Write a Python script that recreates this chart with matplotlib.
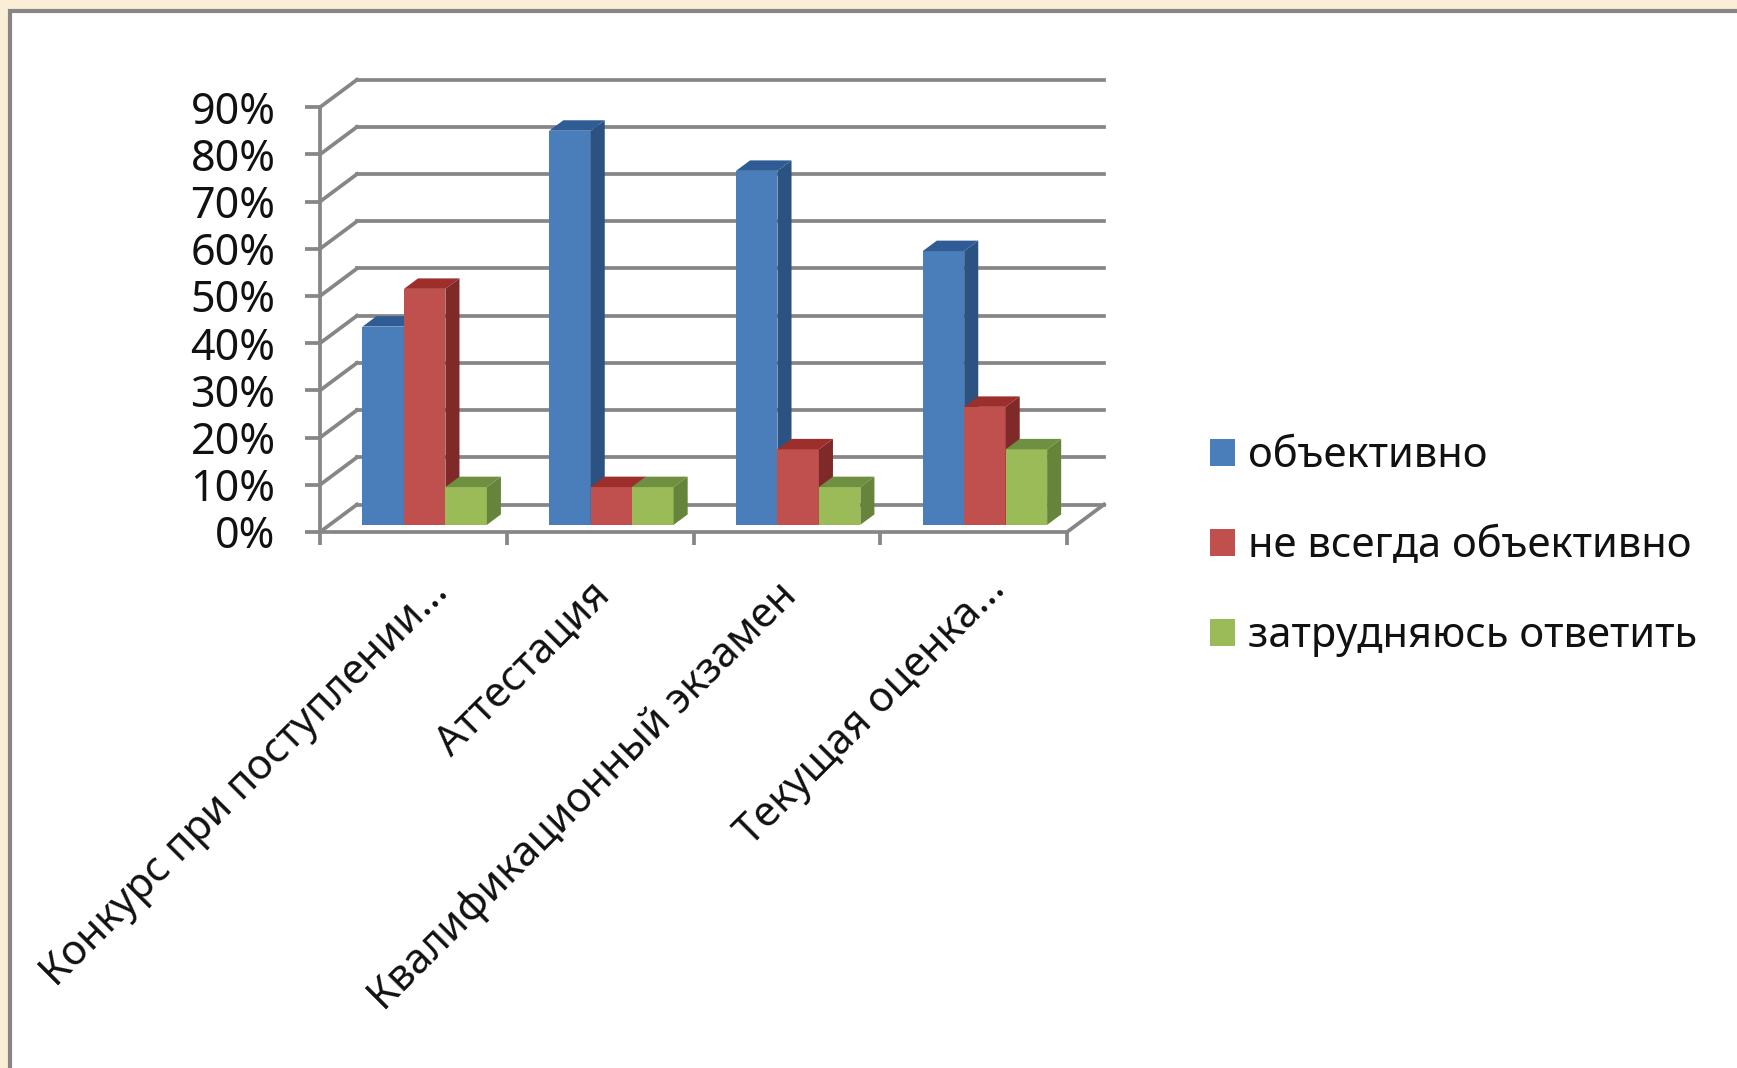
import matplotlib
matplotlib.use('Agg')
import matplotlib.pyplot as plt
from matplotlib.patches import Patch, Rectangle

plt.rcParams['font.family'] = ['Noto Sans', 'DejaVu Sans']

categories = ['Конкурс при поступлении...', 'Аттестация', 'Квалификационный экзамен', 'Текущая оценка...']
series_names = ['объективно', 'не всегда объективно', 'затрудняюсь ответить']
objective = [42, 83.5, 75, 58]
not_always = [50, 8, 16, 25]
hard_to_say = [8, 8, 8, 16]
y_ticks = list(range(0, 100, 10))

front_colors = ['#4a7ebb', '#c0504d', '#9bbb59']
top_colors = ['#2f5c94', '#9c2f2c', '#6f9040']
side_colors = ['#2c5282', '#7f2a28', '#66853a']
grid_color = '#868686'

W, H = 1737, 1068
fig = plt.figure(figsize=(W / 100, H / 100), dpi=100, facecolor='#fbeed6')

# white panel with the grey border
fig.add_artist(Rectangle((10 / W, -0.02), 1.1, 1 - 11 / H + 0.02, transform=fig.transFigure,
                         facecolor='white', edgecolor=grid_color, linewidth=3, zorder=-1))

# 3d depth of the chart box, in data units
unit_x = 186.75
unit_y = 4.72
depth_x = 37 / unit_x
depth_y = 27.5 / unit_y

ax = fig.add_axes([320 / W, 1 - 532 / H, (4 * unit_x + 37) / W, (90 * unit_y + 27.5) / H])
ax.set_xlim(0, 4 + depth_x)
ax.set_ylim(0, 90 + depth_y)
ax.patch.set_visible(False)
for side in ['top', 'right']:
    ax.spines[side].set_visible(False)
ax.spines['left'].set_bounds(0, 90)
ax.spines['bottom'].set_bounds(0, 4)
for side in ['left', 'bottom']:
    ax.spines[side].set_color(grid_color)
    ax.spines[side].set_linewidth(2.7)

ax.set_yticks(y_ticks)
ax.set_yticklabels([str(v) + '%' for v in y_ticks], fontsize=31, color='#111111')
ax.tick_params(axis='y', length=11, width=2.7, color=grid_color, pad=21)
ax.set_xticks(range(5))
ax.set_xticklabels([])
ax.tick_params(axis='x', length=9, width=2.7, color=grid_color)

# back wall and floor lines
for v in y_ticks:
    ax.plot([depth_x, 4 + depth_x], [v + depth_y, v + depth_y], color=grid_color, lw=2.7, zorder=1, clip_on=False)
    ax.plot([0, depth_x], [v, v + depth_y], color=grid_color, lw=2.7, zorder=1, clip_on=False)
ax.plot([4, 4 + depth_x], [0, depth_y], color=grid_color, lw=2.7, zorder=1, clip_on=False)

# bars: front face plus top and side faces
bar_w = 0.222
gap = 0.176
start_d = 0.26
bar_d = 0.38
for s, values in enumerate([objective, not_always, hard_to_say]):
    for c, v in enumerate(values):
        x0 = c + gap + s * bar_w
        x1 = x0 + bar_w
        b = depth_y * start_d
        ox = depth_x * start_d
        dx = depth_x * bar_d
        dy = depth_y * bar_d
        top = v + b
        ax.bar(x0 + ox, v, bar_w, bottom=b, align='edge', color=front_colors[s], linewidth=0, zorder=3 + s)
        ax.fill([x0 + ox, x1 + ox, x1 + ox + dx, x0 + ox + dx], [top, top, top + dy, top + dy],
                color=top_colors[s], linewidth=0, zorder=3 + s)
        ax.fill([x1 + ox, x1 + ox + dx, x1 + ox + dx, x1 + ox], [b, b + dy, top + dy, top],
                color=side_colors[s], linewidth=0, zorder=3 + s)

# rotated category names, the shortened ones hang further right
label_shift = [10, -8, -8, 8]
label_drop = [-28, -30, -31, -26]
for c, name in enumerate(categories):
    ax.annotate(name, xy=(c + 0.5, 0), xytext=(label_shift[c], label_drop[c]), textcoords='offset points', rotation=45,
                rotation_mode='anchor', ha='right', va='top', fontsize=30, color='#111111',
                annotation_clip=False)

handles = [Patch(facecolor=col, linewidth=0) for col in front_colors]
fig.legend(handles, series_names, loc='upper left', bbox_to_anchor=(1210 / W, 1 - 435 / H), frameon=False,
           fontsize=30, labelcolor='#111111', handlelength=0.6, handleheight=0.62, handletextpad=0.3,
           labelspacing=1.15, borderpad=0, borderaxespad=0)

plt.savefig('out.png', dpi=100, facecolor=fig.get_facecolor())
